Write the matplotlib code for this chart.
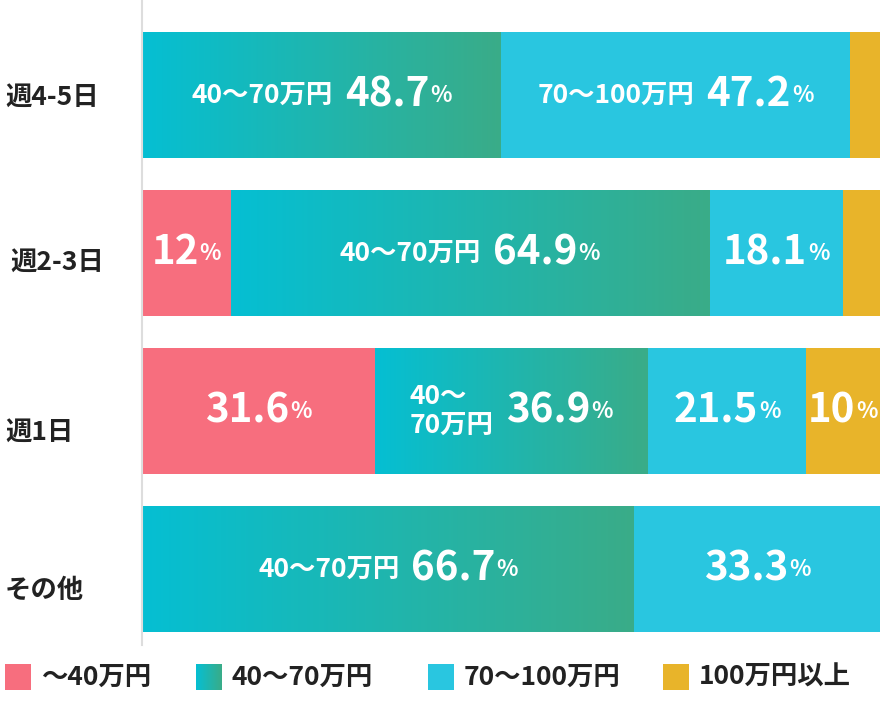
import numpy as np
import matplotlib.pyplot as plt
from matplotlib.patches import Rectangle
from matplotlib.colors import LinearSegmentedColormap
import matplotlib.transforms as mtransforms

plt.rcParams['font.family'] = ['Noto Sans CJK JP', 'DejaVu Sans']
plt.rcParams['font.weight'] = 'bold'

rows = ['週4-5日', '週2-3日', '週1日', 'その他']
series = ['〜40万円', '40〜70万円', '70〜100万円', '100万円以上']
v_low = [0, 12.0, 31.6, 0]
v_mid = [48.7, 64.9, 36.9, 66.7]
v_high = [47.2, 18.1, 21.5, 33.3]
v_top = [4.1, 5.0, 10.0, 0]
# which segments get the series name next to the value
mid_names = ['40〜70万円', '40〜70万円', '40〜\n70万円', '40〜70万円']
high_names = ['70〜100万円', None, None, None]

c_low = '#f76e7e'
c_high = '#29c6e0'
c_top = '#e8b42a'
grad = LinearSegmentedColormap.from_list('g', ['#05bfd3', '#3aac88'])

fig = plt.figure(figsize=(8.82, 7.02), dpi=100)
ax = fig.add_axes([142 / 882, 1 - 645 / 702, 738 / 882, 645 / 702])
ax.set_xlim(0, 100)
ax.set_ylim(550 / 158, -95 / 158)
for s in ['top', 'right', 'bottom']:
    ax.spines[s].set_visible(False)
ax.spines['left'].set_color('#dddddd')
ax.spines['left'].set_linewidth(1.5)
ax.set_xticks([])
ax.set_yticks([])

# row labels (placed as in the reference, slightly below bar centres)
label_y = [97, 262, 432, 590]
label_x = [5, 10, 5, 5]
for lab, x, y in zip(rows, label_x, label_y):
    fig.text(x / 882, 1 - y / 702, lab, fontsize=19, color='#222222',
             ha='left', va='center')

h = 126 / 158
gx = np.linspace(0, 1, 256).reshape(1, -1)

fig.canvas.draw()
renderer = fig.canvas.get_renderer()


def place(pieces, xc, yc):
    # pieces: list of (text, size, space_before_px)
    texts = []
    for s, size, pre in pieces:
        t = ax.text(xc, yc, s, fontsize=size, color='white', fontweight='bold',
                    ha='left', va='center', linespacing=1.1)
        texts.append((t, pre))
    widths = [t.get_window_extent(renderer).width for t, _ in texts]
    total = sum(widths) + sum(p for _, p in texts)
    off = -total / 2
    for (t, pre), w in zip(texts, widths):
        off += pre
        t.set_transform(mtransforms.offset_copy(ax.transData, fig=fig, x=off * 0.72, y=0, units='points'))
        off += w


def value_pieces(v):
    s = f'{int(v)}' if v == int(v) else f'{v:.1f}'
    return [(s, 29, 0), ('%', 16, 1)]


for i in range(len(rows)):
    left = 0
    segs = [(v_low[i], c_low, None), (v_mid[i], None, mid_names[i]),
            (v_high[i], c_high, high_names[i]), (v_top[i], c_top, None)]
    for v, col, name in segs:
        if v <= 0:
            continue
        if col is None:
            r = Rectangle((left, i - h / 2), v, h, facecolor='none', edgecolor='none')
            ax.add_patch(r)
            im = ax.imshow(gx, cmap=grad, aspect='auto',
                           extent=(left, left + v, i + h / 2, i - h / 2), zorder=2)
            im.set_clip_path(r)
        else:
            ax.barh(i, v, left=left, height=h, color=col, zorder=2)
        if v >= 9:
            pcs = value_pieces(v)
            if name:
                pcs = [(name, 19, 0)] + [(pcs[0][0], 29, 12), pcs[1]]
            place(pcs, left + v / 2, i)
        left += v

ax.set_xlim(0, 100)
ax.set_ylim(550 / 158, -95 / 158)

# legend
lg = fig.add_axes([0, 0, 1, 55 / 702])
lg.axis('off')
lx = [5, 196, 428, 663]
cols = [c_low, None, c_high, c_top]
for x, col, lab in zip(lx, cols, series):
    if col is None:
        r = Rectangle((x, 17), 26, 26, facecolor='none', edgecolor='none')
        lg.add_patch(r)
        im = lg.imshow(gx, cmap=grad, aspect='auto', extent=(x, x + 26, 43, 17))
        im.set_clip_path(r)
    else:
        lg.add_patch(Rectangle((x, 17), 26, 26, facecolor=col))
    lg.text(x + 36, 30, lab, fontsize=19, color='#222222', va='center', ha='left')
lg.set_xlim(0, 882)
lg.set_ylim(55, 0)

fig.savefig('out.png', dpi=100)
